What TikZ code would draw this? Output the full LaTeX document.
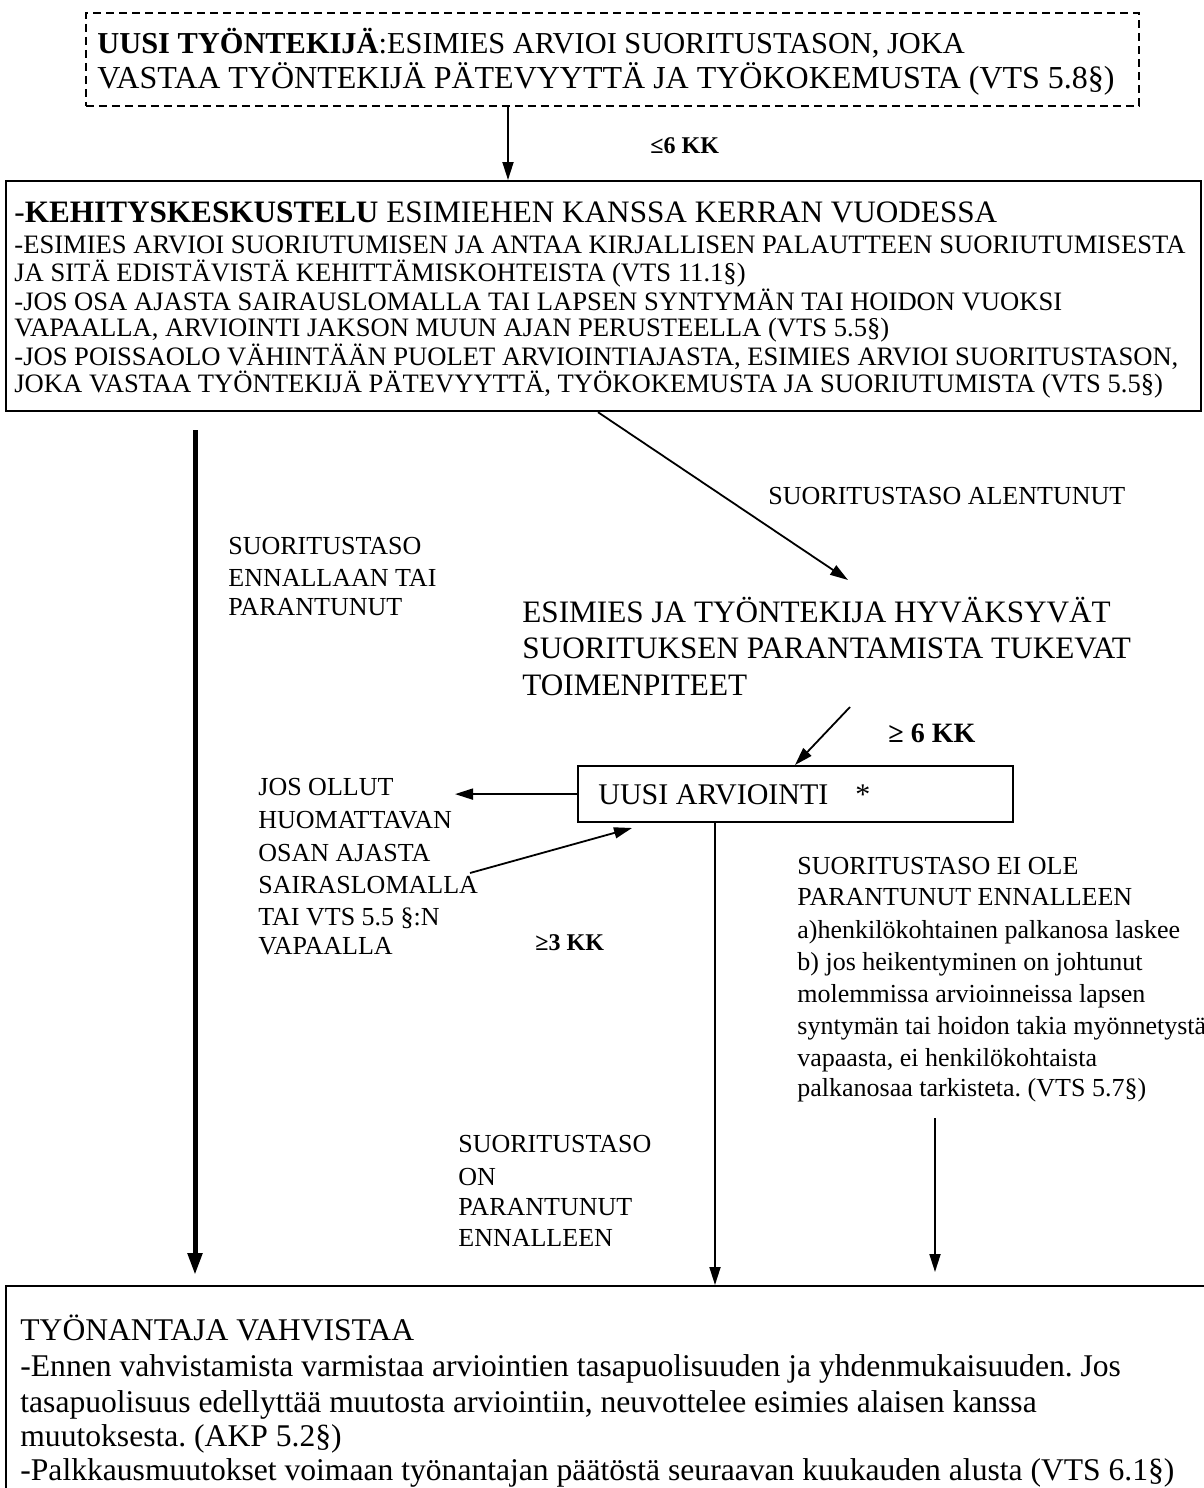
\documentclass[tikz,border=0pt]{standalone}
\usepackage{fontspec}
\setmainfont{Liberation Serif}
\usetikzlibrary{arrows.meta}
\frenchspacing
\tikzset{
  txt/.style={anchor=base west, inner sep=0pt, font=\fontsize{#1}{#1}\selectfont\frenchspacing},
  boxshape/.style={draw, line width=1.1pt, inner sep=0pt, anchor=north west},
  conn/.style={line width=0.9pt, -{Triangle[length=9pt,width=5.5pt]}},
  thickconn/.style={line width=2.5pt, -{Triangle[length=11pt,width=7pt]}},
}
\begin{document}
\begin{tikzpicture}[x=0.5pt,y=-0.5pt]
\useasboundingbox (0,0) rectangle (1204,1488);
\fill[white] (0,0) rectangle (1204,1488);
\clip (0,0) rectangle (1204,1488);

% boxes
\node[boxshape, dashed, dash pattern=on 4pt off 2.5pt, line width=0.9pt, minimum width=526.5pt, minimum height=46.5pt] (box1) at (85,12) {};
\node[boxshape, minimum width=597.5pt, minimum height=115pt] (box2) at (5,180) {};
\node[boxshape, minimum width=217.5pt, minimum height=28pt] (box4) at (577,765) {};
\node[boxshape, minimum width=610pt, minimum height=120pt] (box3) at (5,1285) {};

% top box text
\node[txt=15.2] (t1a) at (97,53) {\textbf{UUSI TYÖNTEKIJÄ}:ESIMIES ARVIOI SUORITUSTASON, JOKA};
\node[txt=16] (t1b) at (97,88) {VASTAA TYÖNTEKIJÄ PÄTEVYYTTÄ JA TYÖKOKEMUSTA (VTS 5.8§)};

\node[txt=12] (le6) at (650,153) {\textbf{≤6 KK}};

% box2 text
\node[txt=15.6] (t2a) at (14,222) {-\textbf{KEHITYSKESKUSTELU} ESIMIEHEN KANSSA KERRAN VUODESSA};
\node[txt=13.3] (t2b) at (14,253) {-ESIMIES ARVIOI SUORIUTUMISEN JA ANTAA KIRJALLISEN PALAUTTEEN SUORIUTUMISESTA};
\node[txt=13.3] (t2c) at (14,281) {JA SITÄ EDISTÄVISTÄ KEHITTÄMISKOHTEISTA (VTS 11.1§)};
\node[txt=13.3] (t2d) at (14,310) {-JOS OSA AJASTA SAIRAUSLOMALLA TAI LAPSEN SYNTYMÄN TAI HOIDON VUOKSI};
\node[txt=13.3] (t2e) at (14,336) {VAPAALLA, ARVIOINTI JAKSON MUUN AJAN PERUSTEELLA (VTS 5.5§)};
\node[txt=13.3] (t2f) at (14,365) {-JOS POISSAOLO VÄHINTÄÄN PUOLET ARVIOINTIAJASTA, ESIMIES ARVIOI SUORITUSTASON,};
\node[txt=13.3] (t2g) at (14,392) {JOKA VASTAA TYÖNTEKIJÄ PÄTEVYYTTÄ, TYÖKOKEMUSTA JA SUORIUTUMISTA (VTS 5.5§)};

% left label
\node[txt=13] (l1) at (228,554) {SUORITUSTASO};
\node[txt=13] (l2) at (228,586) {ENNALLAAN TAI};
\node[txt=13] (l3) at (228,615) {PARANTUNUT};

\node[txt=13] (alen) at (768,504) {SUORITUSTASO ALENTUNUT};

% esimies block
\node[txt=15.6] (e1) at (522,622) {ESIMIES JA TYÖNTEKIJA HYVÄKSYVÄT};
\node[txt=15.6] (e2) at (522,658) {SUORITUKSEN PARANTAMISTA TUKEVAT};
\node[txt=15.6] (e3) at (522,695) {TOIMENPITEET};

\node[txt=14] (ge6) at (888,742) {\textbf{≥ 6 KK}};

% uusi arviointi
\node[txt=15] (ua) at (598,804) {UUSI ARVIOINTI};
\node[txt=15] (star) at (855,804) {*};

% jos ollut block
\node[txt=13] (j1) at (258,795) {JOS OLLUT};
\node[txt=13] (j2) at (258,828) {HUOMATTAVAN};
\node[txt=13] (j3) at (258,861) {OSAN AJASTA};
\node[txt=13] (j4) at (258,893) {SAIRASLOMALLA};
\node[txt=13] (j5) at (258,925) {TAI VTS 5.5 §:N};
\node[txt=13] (j6) at (258,954) {VAPAALLA};

\node[txt=12] (ge3) at (535,950) {\textbf{≥3 KK}};

% right block
\node[txt=13] (r1) at (797,874) {SUORITUSTASO EI OLE};
\node[txt=13] (r2) at (797,905) {PARANTUNUT ENNALLEEN};
\node[txt=13] (r3) at (797,938) {a)henkilökohtainen palkanosa laskee};
\node[txt=13] (r4) at (797,970) {b) jos heikentyminen on johtunut};
\node[txt=13] (r5) at (797,1002) {molemmissa arvioinneissa lapsen};
\node[txt=13] (r6) at (797,1034) {syntymän tai hoidon takia myönnetystä};
\node[txt=13] (r7) at (797,1066) {vapaasta, ei henkilökohtaista};
\node[txt=13] (r8) at (797,1096) {palkanosaa tarkisteta. (VTS 5.7§)};

% on parantunut label
\node[txt=13] (o1) at (458,1152) {SUORITUSTASO};
\node[txt=13] (o2) at (458,1185) {ON};
\node[txt=13] (o3) at (458,1215) {PARANTUNUT};
\node[txt=13] (o4) at (458,1246) {ENNALLEEN};

% box3 text
\node[txt=15.8] (b1) at (20,1340) {TYÖNANTAJA VAHVISTAA};
\node[txt=15.8] (b2) at (20,1376) {-Ennen vahvistamista varmistaa arviointien tasapuolisuuden ja yhdenmukaisuuden. Jos};
\node[txt=15.8] (b3) at (20,1412) {tasapuolisuus edellyttää muutosta arviointiin, neuvottelee esimies alaisen kanssa};
\node[txt=15.8] (b4) at (20,1446) {muutoksesta. (AKP 5.2§)};
\node[txt=15.8] (b5) at (20,1480) {-Palkkausmuutokset voimaan työnantajan päätöstä seuraavan kuukauden alusta (VTS 6.1§)};

% connectors
\coordinate (xa) at (508,0);
\draw[conn] (box1.south -| xa) -- (box2.north -| xa);

\coordinate (lt) at (195,430);
\coordinate (lb) at (195,1275);
\draw[thickconn] (lt) -- (lb);

\coordinate (xd) at (598,0);
\coordinate (dEnd) at (848,580);
\draw[conn] (box2.south -| xd) -- (dEnd);

\coordinate (s6) at (850,707);
\coordinate (xe) at (795,0);
\draw[conn] (s6) -- (box4.north -| xe);

\coordinate (jl) at (455,0);
\draw[conn] (box4.west) -- (box4.west -| jl);

\coordinate (us) at (470,873);
\coordinate (ue) at (632,828);
\draw[conn] (us) -- (ue);

\coordinate (xv) at (715,0);
\draw[conn] (box4.south -| xv) -- (box3.north -| xv);

\coordinate (rt) at (935,1118);
\coordinate (rb) at (935,1272);
\draw[conn] (rt) -- (rb);
\end{tikzpicture}
\end{document}
